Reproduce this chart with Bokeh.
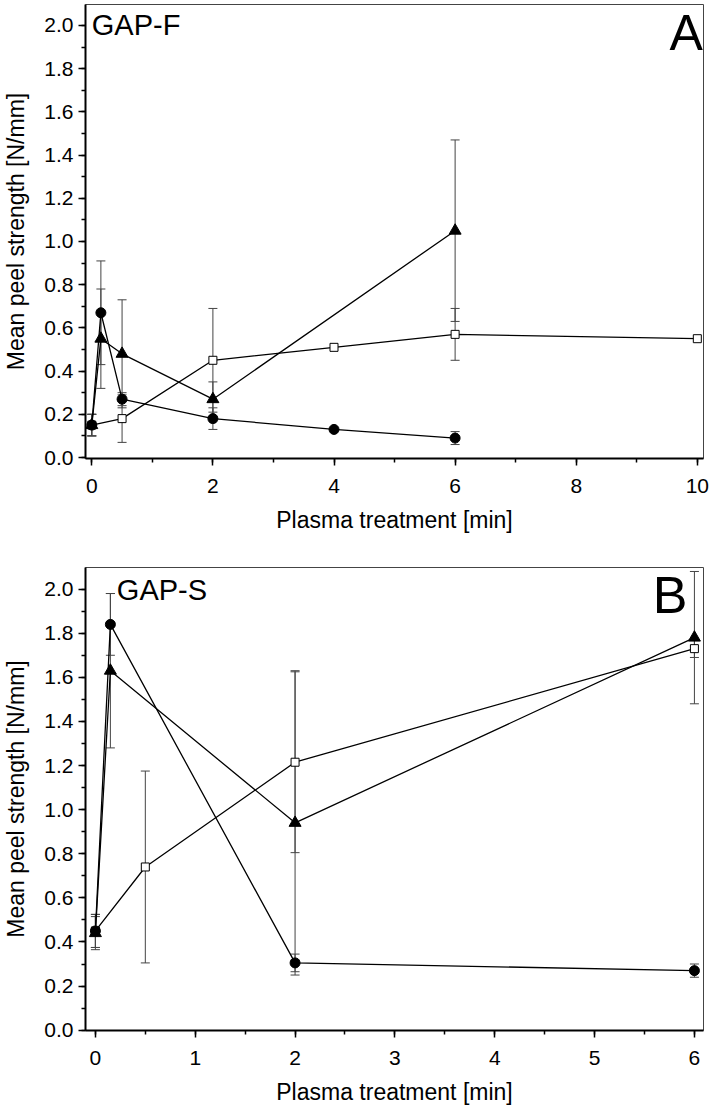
from bokeh.plotting import figure
from bokeh.models import (ColumnDataSource, Whisker, TeeHead, Range1d,
                          SingleIntervalTicker, PrintfTickFormatter, Label)
from bokeh.layouts import column
from bokeh.embed import file_html
from bokeh.resources import INLINE

# ---------------- Panel A (GAP-F) ----------------
a_circle_x = [0, 0.15, 0.5, 2, 4, 6]
a_circle_y = [0.15, 0.67, 0.27, 0.18, 0.13, 0.09]
a_circle_err = [0.05, 0.24, 0.03, 0.05, 0.0, 0.03]

a_tri_x = [0, 0.15, 0.5, 2, 6]
a_tri_y = [0.15, 0.55, 0.48, 0.27, 1.05]
a_tri_err = [0.05, 0.23, 0.25, 0.08, 0.42]

a_sq_x = [0, 0.5, 2, 4, 6, 10]
a_sq_y = [0.15, 0.18, 0.45, 0.51, 0.57, 0.55]
a_sq_err = [0.05, 0.11, 0.24, 0.0, 0.12, 0.0]

# ---------------- Panel B (GAP-S) ----------------
b_circle_x = [0, 0.15, 2, 6]
b_circle_y = [0.45, 1.84, 0.305, 0.27]
b_circle_err = [0.075, 0.14, 0.04, 0.03]

b_tri_x = [0, 0.15, 2, 6]
b_tri_y = [0.44, 1.63, 0.94, 1.78]
b_tri_err = [0.075, 0.35, 0.69, 0.30]

b_sq_x = [0, 0.5, 2, 6]
b_sq_y = [0.45, 0.74, 1.215, 1.73]
b_sq_err = [0.075, 0.435, 0.41, 0.04]

x_title = "Plasma treatment [min]"
y_title = "Mean peel strength [N/mm]"

FONT = "Liberation Sans"


def add_series(p, xs, ys, errs, marker, size, fill):
    ex = [x for x, e in zip(xs, errs) if e > 0]
    lo = [y - e for y, e in zip(ys, errs) if e > 0]
    hi = [y + e for y, e in zip(ys, errs) if e > 0]
    esrc = ColumnDataSource(dict(x=ex, lower=lo, upper=hi))
    w = Whisker(source=esrc, base="x", lower="lower", upper="upper",
                line_color="#444444", line_width=1,
                upper_head=TeeHead(size=9, line_color="#444444", line_width=1),
                lower_head=TeeHead(size=9, line_color="#444444", line_width=1))
    p.add_layout(w)
    src = ColumnDataSource(dict(x=xs, y=ys))
    p.line("x", "y", source=src, line_color="black", line_width=1.3)
    p.scatter("x", "y", source=src, marker=marker, size=size,
              fill_color=fill, line_color="black", line_width=1)


def style(p, xint, ticks_y=0.2):
    p.xaxis.ticker = SingleIntervalTicker(interval=xint, num_minor_ticks=2)
    p.yaxis.ticker = SingleIntervalTicker(interval=ticks_y, num_minor_ticks=2)
    p.yaxis.formatter = PrintfTickFormatter(format="%.1f")
    p.xgrid.visible = False
    p.ygrid.visible = False
    p.outline_line_color = "#444444"
    p.outline_line_width = 1
    p.background_fill_color = "white"
    p.border_fill_color = "white"
    for ax in (p.xaxis[0], p.yaxis[0]):
        ax.axis_line_color = "black"
        ax.axis_line_width = 2
        ax.major_tick_line_color = "black"
        ax.major_tick_line_width = 1.5
        ax.major_tick_out = 7
        ax.major_tick_in = 0
        ax.minor_tick_line_color = "black"
        ax.minor_tick_line_width = 1.5
        ax.minor_tick_out = 4
        ax.minor_tick_in = 0
        ax.major_label_text_font = FONT
        ax.major_label_text_font_size = "21px"
        ax.major_label_text_color = "black"
        ax.axis_label_text_font = FONT
        ax.axis_label_text_font_size = "23px"
        ax.axis_label_text_font_style = "normal"
        ax.axis_label_text_color = "black"
    p.yaxis.major_label_standoff = 5
    p.xaxis.major_label_standoff = 13
    p.yaxis.axis_label_standoff = 12
    p.xaxis.axis_label_standoff = 11
    p.xaxis.axis_label = x_title
    p.yaxis.axis_label = y_title


# ---- figure A ----
pA = figure(width=710, height=540, output_backend="svg", toolbar_location=None,
            x_range=Range1d(-0.104, 10.102), y_range=Range1d(-0.0046, 2.097),
            min_border_left=83, min_border_right=7, min_border_top=4,
            min_border_bottom=82)
style(pA, 2)
add_series(pA, a_sq_x, a_sq_y, a_sq_err, "square", 8, "white")
add_series(pA, a_tri_x, a_tri_y, a_tri_err, "triangle", 12, "black")
add_series(pA, a_circle_x, a_circle_y, a_circle_err, "circle", 10, "black")
pA.add_layout(Label(x=0.0, y=2.0, text="GAP-F", text_font=FONT,
                    text_font_size="29px", text_baseline="alphabetic",
                    text_align="left", text_color="black"))
pA.add_layout(Label(x=10.09, y=1.965, text="A", text_font=FONT,
                    text_font_size="50px", text_baseline="alphabetic",
                    text_align="right", text_color="black"))

# ---- figure B ----
pB = figure(width=710, height=567, output_backend="svg", toolbar_location=None,
            x_range=Range1d(-0.0992, 6.091), y_range=Range1d(-0.0015, 2.098),
            min_border_left=85, min_border_right=1, min_border_top=27,
            min_border_bottom=77)
style(pB, 1)
add_series(pB, b_sq_x, b_sq_y, b_sq_err, "square", 8, "white")
add_series(pB, b_tri_x, b_tri_y, b_tri_err, "triangle", 12, "black")
add_series(pB, b_circle_x, b_circle_y, b_circle_err, "circle", 10, "black")
pB.add_layout(Label(x=0.215, y=1.997, text="GAP-S", text_font=FONT,
                    text_font_size="29px", text_baseline="alphabetic",
                    text_align="left", text_color="black"))
pB.add_layout(Label(x=5.93, y=1.973, text="B", text_font=FONT,
                    text_font_size="52px", text_baseline="alphabetic",
                    text_align="right", text_color="black"))

layout = column(pA, pB)
open("out.html", "w").write(file_html(layout, INLINE))
